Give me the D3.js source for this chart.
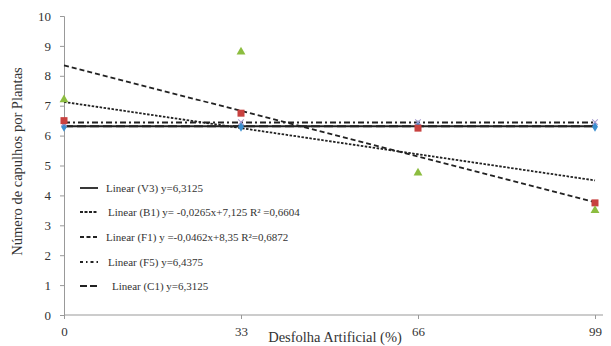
<!DOCTYPE html>
<html>
<head>
<meta charset="utf-8">
<script src="https://cdn.jsdelivr.net/npm/d3@7"></script>
</head>
<body style="margin:0; background:#fff">
<svg id="chart" width="611" height="346"></svg>
<script>
// data
const desfolha = [0, 33, 66, 99];
const v3 = [6.3, 6.3, 6.35, 6.3];
const b1 = [6.5, 6.75, 6.25, 3.75];
const f1 = [7.2, 8.8, 4.75, 3.5];
const f5 = [6.4, 6.45, 6.45, 6.45];
const yTicks = [0, 1, 2, 3, 4, 5, 6, 7, 8, 9, 10];

// trend lines
const trendNames = ["Linear (V3) y=6,3125",
  "Linear (B1) y= -0,0265x+7,125 R² =0,6604",
  "Linear (F1) y =-0,0462x+8,35 R²=0,6872",
  "Linear (F5) y=6,4375",
  "Linear (C1) y=6,3125"];
const intercepts = [6.3125, 7.125, 8.35, 6.4375, 6.3125];
const slopes = [0, -0.0265, -0.0462, 0, 0];
const dashes = [null, "2.5,1.5", "5,3", "6,3,2,3", "9,4"];

const FONT = "Liberation Serif";
const svg = d3.select("#chart");
const margin = { left: 64, right: 16, top: 16, bottom: 31 };
const W = 611, H = 346;

const x = d3.scaleLinear().domain([0, 99]).range([margin.left, W - margin.right]);
const y = d3.scaleLinear().domain([0, 10]).range([H - margin.bottom, margin.top]);

// axes
const yAxis = d3.axisLeft(y).tickValues(yTicks).tickSize(4).tickPadding(9);
const gy = svg.append("g").attr("transform", `translate(${margin.left},0)`).call(yAxis);
gy.attr("font-family", FONT).attr("font-size", 13);
gy.selectAll("path,line").attr("stroke", "#999");

const xAxis = d3.axisBottom(x).tickValues(desfolha).tickSize(4).tickPadding(8);
const gx = svg.append("g").attr("transform", `translate(0,${H - margin.bottom})`).call(xAxis);
gx.attr("font-family", FONT).attr("font-size", 13);
gx.selectAll("path,line").attr("stroke", "#999");
gx.select(".domain").attr("d", `M${margin.left},0H${W - 8}`);

// axis titles
svg.append("text")
  .attr("transform", `translate(22,${(y(0) + y(10)) / 2 - 4}) rotate(-90)`)
  .attr("text-anchor", "middle")
  .attr("font-size", 14.5)
  .text("Número de capulhos por Plantas");

svg.append("text")
  .attr("x", 335).attr("y", 342)
  .attr("text-anchor", "middle")
  .attr("font-size", 14.5)
  .text("Desfolha Artificial (%)");

// trend lines
const trends = trendNames.map((name, i) => ({ name, a: intercepts[i], b: slopes[i], dash: dashes[i] }));
svg.selectAll(".trend")
  .data(trends)
  .join("line")
  .attr("class", "trend")
  .attr("x1", x(0)).attr("x2", x(99))
  .attr("y1", d => y(d.a))
  .attr("y2", d => y(d.a + d.b * 99))
  .attr("stroke", "#222")
  .attr("stroke-width", 1.8)
  .attr("stroke-dasharray", d => d.dash);

// markers
const pts = (vals) => desfolha.map((d, i) => ({ x: d, y: vals[i] }));

svg.selectAll(".v3")
  .data(pts(v3)).join("path").attr("class", "v3")
  .attr("transform", d => `translate(${x(d.x)},${y(d.y)})`)
  .attr("d", d3.symbol(d3.symbolDiamond, 30))
  .attr("fill", "#3a8fd0");

svg.selectAll(".f5")
  .data(pts(f5)).join("path").attr("class", "f5")
  .attr("transform", d => `translate(${x(d.x)},${y(d.y)}) rotate(45)`)
  .attr("d", "M-4,0H4M0,-4V4")
  .attr("fill", "none").attr("stroke", "#a89bd0").attr("stroke-width", 1);

svg.selectAll(".b1")
  .data(pts(b1)).join("rect").attr("class", "b1")
  .attr("x", d => x(d.x) - 3.5).attr("y", d => y(d.y) - 3.5)
  .attr("width", 7).attr("height", 7)
  .attr("fill", "#c8413f");

svg.selectAll(".f1")
  .data(pts(f1)).join("path").attr("class", "f1")
  .attr("transform", d => `translate(${x(d.x)},${y(d.y)})`)
  .attr("d", d3.symbol(d3.symbolTriangle, 34))
  .attr("fill", "#8cbd3f");

// legend
const legendY = [188, 212, 237, 262, 286];
const legendTextX = [106, 108, 106, 108, 112];
const legendDash = [null, "3,1.5", "4,2.5", "3,3,1.5,3", "7,3"];
const lg = svg.selectAll(".legend")
  .data(trends)
  .join("g").attr("class", "legend")
  .attr("transform", (d, i) => `translate(0,${legendY[i]})`);
lg.append("line")
  .attr("x1", 80).attr("x2", 98)
  .attr("stroke", "#222").attr("stroke-width", 1.8)
  .attr("stroke-dasharray", (d, i) => legendDash[i]);
lg.append("text")
  .attr("x", (d, i) => legendTextX[i]).attr("y", 4)
  .attr("font-size", 11)
  .text(d => d.name);

// serif for all text
svg.selectAll("text").attr("font-family", FONT).attr("fill", "#333");
</script>
</body>
</html>
